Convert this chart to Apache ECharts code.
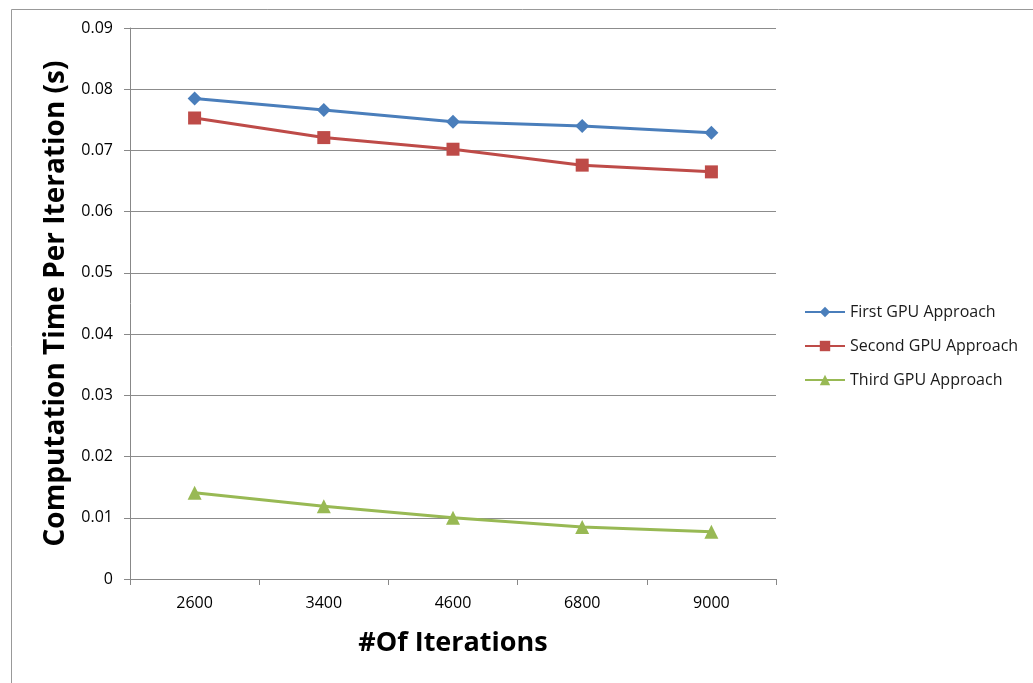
<!DOCTYPE html>
<html>
<head>
<meta charset="utf-8">
<script src="https://cdn.jsdelivr.net/npm/echarts@6/dist/echarts.min.js"></script>
<style>
html,body{margin:0;padding:0;background:#fff;}
#main{width:1033px;height:683px;}
</style>
</head>
<body>
<div id="main"></div>
<script>
var categories = ['2600', '3400', '4600', '6800', '9000'];
var firstGpu = [0.0785, 0.0766, 0.0747, 0.0740, 0.0729];
var secondGpu = [0.0753, 0.0721, 0.0702, 0.0676, 0.0665];
var thirdGpu = [0.0141, 0.0119, 0.0100, 0.0085, 0.0077];
var seriesNames = ['First GPU Approach', 'Second GPU Approach', 'Third GPU Approach'];

var font = '"Open Sans", sans-serif';
var chart = echarts.init(document.getElementById('main'));
var option = {
    backgroundColor: '#fff',
    animation: false,
    textStyle: { fontFamily: font },
    graphic: [{
        type: 'rect',
        left: 9, top: 7,
        shape: { width: 1040, height: 700 },
        style: { fill: 'none', stroke: '#999', lineWidth: 1 }
    }],
    grid: { left: 130, right: 257, top: 28, bottom: 104 },
    legend: {
        orient: 'vertical',
        left: 799, top: 297,
        itemWidth: 40, itemHeight: 13,
        itemGap: 14,
        textStyle: { fontSize: 16, lineHeight: 20, color: '#1a1a1a', fontFamily: font },
        data: seriesNames
    },
    xAxis: {
        type: 'category',
        data: categories,
        boundaryGap: true,
        name: '#Of Iterations',
        nameLocation: 'middle',
        nameGap: 51,
        nameTextStyle: { fontSize: 27, fontWeight: 'bold', color: '#000' },
        axisLine: { lineStyle: { color: '#888' } },
        axisTick: { show: true, length: 6, inside: false, lineStyle: { color: '#888' } },
        axisLabel: { fontSize: 16, color: '#000', margin: 16 }
    },
    yAxis: {
        type: 'value',
        min: 0, max: 0.09, interval: 0.01,
        name: 'Computation Time Per Iteration (s)',
        nameLocation: 'middle',
        nameGap: 58,
        nameTextStyle: { fontSize: 28, fontWeight: 'bold', color: '#000' },
        axisLine: { show: true, lineStyle: { color: '#888' } },
        axisTick: { show: true, length: 6, lineStyle: { color: '#888' } },
        axisLabel: {
            fontSize: 16, color: '#000', margin: 17,
            formatter: function (v) { return v === 0 ? '0' : v.toFixed(2); }
        },
        splitLine: { lineStyle: { color: '#8c8c8c', width: 1 } }
    },
    series: [
        {
            name: seriesNames[0], type: 'line', data: firstGpu,
            symbol: 'diamond', symbolSize: 14,
            lineStyle: { width: 3, color: '#4a7ebb' },
            itemStyle: { color: '#4a7ebb' }
        },
        {
            name: seriesNames[1], type: 'line', data: secondGpu,
            symbol: 'rect', symbolSize: 13,
            lineStyle: { width: 3, color: '#be4b48' },
            itemStyle: { color: '#be4b48' }
        },
        {
            name: seriesNames[2], type: 'line', data: thirdGpu,
            symbol: 'triangle', symbolSize: 14,
            lineStyle: { width: 3, color: '#98b954' },
            itemStyle: { color: '#98b954' }
        }
    ]
};
chart.setOption(option);
</script>
</body>
</html>
